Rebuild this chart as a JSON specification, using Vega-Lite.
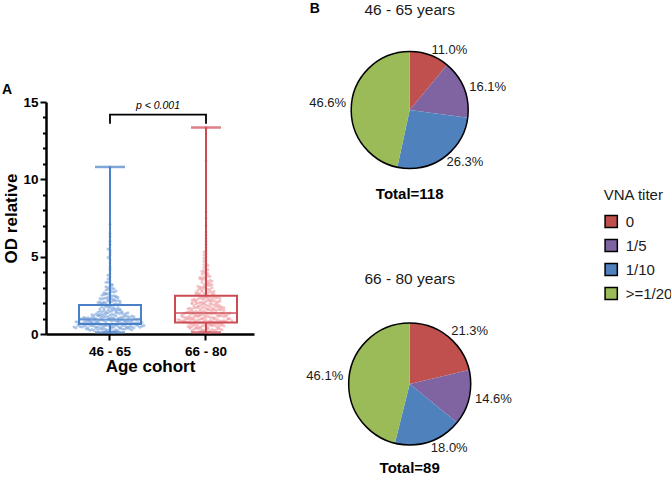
{
 "$schema": "https://vega.github.io/schema/vega-lite/v6.json",
 "padding": {"left": 2, "top": 1, "right": 5, "bottom": 5},
 "background": "white",
 "config": {
  "view": {"stroke": null},
  "font": "Liberation Sans",
  "axis": {"domainColor": "#000", "tickColor": "#000", "labelColor": "#000", "titleColor": "#000", "grid": false}
 },
 "datasets": {
  "pts": [
   {"c":"46 - 65","v":0.42},{"c":"46 - 65","v":0.18},{"c":"46 - 65","v":0.57},{"c":"46 - 65","v":0.33},{"c":"46 - 65","v":0.61},{"c":"46 - 65","v":0.25},{"c":"46 - 65","v":0.49},{"c":"46 - 65","v":0.12},{"c":"46 - 65","v":0.55},{"c":"46 - 65","v":0.38},
   {"c":"46 - 65","v":0.63},{"c":"46 - 65","v":0.29},{"c":"46 - 65","v":0.46},{"c":"46 - 65","v":0.52},{"c":"46 - 65","v":0.21},{"c":"46 - 65","v":0.59},{"c":"46 - 65","v":0.35},{"c":"46 - 65","v":0.44},{"c":"46 - 65","v":0.64},{"c":"46 - 65","v":0.27},
   {"c":"46 - 65","v":0.5},{"c":"46 - 65","v":0.15},{"c":"46 - 65","v":0.58},{"c":"46 - 65","v":0.4},{"c":"46 - 65","v":0.62},{"c":"46 - 65","v":0.31},{"c":"46 - 65","v":0.47},{"c":"46 - 65","v":0.54},{"c":"46 - 65","v":0.23},{"c":"46 - 65","v":0.6},
   {"c":"46 - 65","v":0.36},{"c":"46 - 65","v":0.45},{"c":"46 - 65","v":0.56},{"c":"46 - 65","v":0.19},{"c":"46 - 65","v":0.51},{"c":"46 - 65","v":0.39},{"c":"46 - 65","v":0.63},{"c":"46 - 65","v":0.28},{"c":"46 - 65","v":0.48},{"c":"46 - 65","v":0.53},
   {"c":"46 - 65","v":0.34},{"c":"46 - 65","v":0.6},{"c":"46 - 65","v":0.43},{"c":"46 - 65","v":0.1},{"c":"46 - 65","v":0.57},{"c":"46 - 65","v":0.37},{"c":"46 - 65","v":0.62},{"c":"46 - 65","v":0.3},{"c":"46 - 65","v":0.5},{"c":"46 - 65","v":0.41},
   {"c":"46 - 65","v":0.22},{"c":"46 - 65","v":0.47},{"c":"46 - 65","v":0.35},{"c":"46 - 65","v":0.56},{"c":"46 - 65","v":0.14},{"c":"46 - 65","v":0.41},{"c":"46 - 65","v":0.52},{"c":"46 - 65","v":0.29},{"c":"46 - 65","v":0.58},{"c":"46 - 65","v":0.38},
   {"c":"46 - 65","v":0.45},{"c":"46 - 65","v":0.25},{"c":"46 - 65","v":0.53},{"c":"46 - 65","v":0.33},{"c":"46 - 65","v":0.49},{"c":"46 - 65","v":0.17},{"c":"46 - 65","v":0.44},{"c":"46 - 65","v":0.57},{"c":"46 - 65","v":0.31},{"c":"46 - 65","v":0.5},
   {"c":"46 - 65","v":0.4},{"c":"46 - 65","v":0.27},{"c":"46 - 65","v":0.55},{"c":"46 - 65","v":0.36},{"c":"46 - 65","v":0.46},
   {"c":"46 - 65","v":0.78},{"c":"46 - 65","v":0.66},{"c":"46 - 65","v":0.89},{"c":"46 - 65","v":0.71},{"c":"46 - 65","v":0.93},{"c":"46 - 65","v":0.75},{"c":"46 - 65","v":0.68},{"c":"46 - 65","v":0.84},{"c":"46 - 65","v":0.8},{"c":"46 - 65","v":0.7},
   {"c":"46 - 65","v":0.91},{"c":"46 - 65","v":0.73},{"c":"46 - 65","v":0.86},{"c":"46 - 65","v":0.67},{"c":"46 - 65","v":0.82},{"c":"46 - 65","v":0.77},{"c":"46 - 65","v":0.9},{"c":"46 - 65","v":0.69},{"c":"46 - 65","v":0.85},{"c":"46 - 65","v":0.74},
   {"c":"46 - 65","v":0.92},{"c":"46 - 65","v":0.79},{"c":"46 - 65","v":0.66},{"c":"46 - 65","v":0.88},{"c":"46 - 65","v":0.72},{"c":"46 - 65","v":0.83},{"c":"46 - 65","v":0.76},{"c":"46 - 65","v":0.94},{"c":"46 - 65","v":0.7},{"c":"46 - 65","v":0.81},
   {"c":"46 - 65","v":0.87},{"c":"46 - 65","v":0.68},{"c":"46 - 65","v":0.78},{"c":"46 - 65","v":0.9},{"c":"46 - 65","v":0.73},{"c":"46 - 65","v":0.84},{"c":"46 - 65","v":0.67},{"c":"46 - 65","v":0.8},{"c":"46 - 65","v":0.93},{"c":"46 - 65","v":0.75},
   {"c":"46 - 65","v":0.86},{"c":"46 - 65","v":0.71},{"c":"46 - 65","v":0.82},{"c":"46 - 65","v":0.89},{"c":"46 - 65","v":0.69},{"c":"46 - 65","v":0.77},{"c":"46 - 65","v":0.91},{"c":"46 - 65","v":0.74},{"c":"46 - 65","v":0.85},{"c":"46 - 65","v":0.79},
   {"c":"46 - 65","v":1.02},{"c":"46 - 65","v":1.45},{"c":"46 - 65","v":0.97},{"c":"46 - 65","v":1.68},{"c":"46 - 65","v":1.21},{"c":"46 - 65","v":1.83},{"c":"46 - 65","v":1.1},{"c":"46 - 65","v":1.37},{"c":"46 - 65","v":1.55},{"c":"46 - 65","v":0.99},
   {"c":"46 - 65","v":1.28},{"c":"46 - 65","v":1.74},{"c":"46 - 65","v":1.06},{"c":"46 - 65","v":1.49},{"c":"46 - 65","v":1.15},{"c":"46 - 65","v":1.62},{"c":"46 - 65","v":1.33},{"c":"46 - 65","v":1.86},{"c":"46 - 65","v":1.04},{"c":"46 - 65","v":1.41},
   {"c":"46 - 65","v":1.25},{"c":"46 - 65","v":1.79},{"c":"46 - 65","v":1.12},{"c":"46 - 65","v":1.58},{"c":"46 - 65","v":0.96},{"c":"46 - 65","v":1.3},{"c":"46 - 65","v":1.7},{"c":"46 - 65","v":1.18},{"c":"46 - 65","v":1.52},{"c":"46 - 65","v":1.08},
   {"c":"46 - 65","v":1.39},{"c":"46 - 65","v":1.65},{"c":"46 - 65","v":1.23},{"c":"46 - 65","v":1.81},{"c":"46 - 65","v":1.0},{"c":"46 - 65","v":1.47},{"c":"46 - 65","v":1.14},{"c":"46 - 65","v":1.6},{"c":"46 - 65","v":1.35},{"c":"46 - 65","v":1.76},
   {"c":"46 - 65","v":1.05},{"c":"46 - 65","v":1.27},{"c":"46 - 65","v":1.43},{"c":"46 - 65","v":1.19},{"c":"46 - 65","v":1.56},{"c":"46 - 65","v":1.72},{"c":"46 - 65","v":1.1},{"c":"46 - 65","v":1.32},{"c":"46 - 65","v":1.64},{"c":"46 - 65","v":1.85},
   {"c":"46 - 65","v":1.01},{"c":"46 - 65","v":1.22},{"c":"46 - 65","v":0.98},{"c":"46 - 65","v":1.36},{"c":"46 - 65","v":1.11},{"c":"46 - 65","v":1.03},{"c":"46 - 65","v":1.48},{"c":"46 - 65","v":1.17},{"c":"46 - 65","v":0.95},{"c":"46 - 65","v":1.29},
   {"c":"46 - 65","v":1.07},{"c":"46 - 65","v":1.54},{"c":"46 - 65","v":1.13},{"c":"46 - 65","v":1.0},{"c":"46 - 65","v":1.26},{"c":"46 - 65","v":1.4},{"c":"46 - 65","v":1.09},{"c":"46 - 65","v":0.97},{"c":"46 - 65","v":1.2},{"c":"46 - 65","v":1.33},
   {"c":"46 - 65","v":1.05},{"c":"46 - 65","v":1.6},{"c":"46 - 65","v":1.16},{"c":"46 - 65","v":0.99},{"c":"46 - 65","v":1.44},{"c":"46 - 65","v":1.24},{"c":"46 - 65","v":1.02},{"c":"46 - 65","v":1.12},{"c":"46 - 65","v":1.38},{"c":"46 - 65","v":1.08},
   {"c":"46 - 65","v":1.92},{"c":"46 - 65","v":2.35},{"c":"46 - 65","v":2.05},{"c":"46 - 65","v":2.8},{"c":"46 - 65","v":1.98},{"c":"46 - 65","v":2.52},{"c":"46 - 65","v":2.15},{"c":"46 - 65","v":3.1},{"c":"46 - 65","v":2.24},{"c":"46 - 65","v":1.95},
   {"c":"46 - 65","v":2.68},{"c":"46 - 65","v":2.4},{"c":"46 - 65","v":3.45},{"c":"46 - 65","v":2.1},{"c":"46 - 65","v":2.9},{"c":"46 - 65","v":2.02},{"c":"46 - 65","v":3.7},{"c":"46 - 65","v":2.6},{"c":"46 - 65","v":2.28},{"c":"46 - 65","v":3.25},
   {"c":"46 - 65","v":2.45},{"c":"46 - 65","v":4.1},{"c":"46 - 65","v":2.18},{"c":"46 - 65","v":3.0},{"c":"46 - 65","v":2.75},{"c":"46 - 65","v":3.9},{"c":"46 - 65","v":2.33},{"c":"46 - 65","v":3.55},{"c":"46 - 65","v":4.4},{"c":"46 - 65","v":2.95},
   {"c":"46 - 65","v":4.8},{"c":"46 - 65","v":3.35},{"c":"46 - 65","v":5.1},{"c":"46 - 65","v":2.58},{"c":"46 - 65","v":4.25},{"c":"46 - 65","v":5.4},{"c":"46 - 65","v":3.8},{"c":"46 - 65","v":4.6},{"c":"46 - 65","v":5.5},{"c":"46 - 65","v":3.15},
   {"c":"46 - 65","v":5.25},{"c":"46 - 65","v":6.0},{"c":"46 - 65","v":4.95},{"c":"46 - 65","v":6.5},{"c":"46 - 65","v":5.8},{"c":"46 - 65","v":7.1},{"c":"46 - 65","v":6.3},{"c":"46 - 65","v":10.8},
   {"c":"46 - 65","v":1.96},{"c":"46 - 65","v":2.22},{"c":"46 - 65","v":2.48},{"c":"46 - 65","v":2.07},{"c":"46 - 65","v":2.62},{"c":"46 - 65","v":1.9},{"c":"46 - 65","v":2.31},{"c":"46 - 65","v":2.85},{"c":"46 - 65","v":2.13},{"c":"46 - 65","v":2.55},
   {"c":"46 - 65","v":2.01},{"c":"46 - 65","v":2.38},{"c":"46 - 65","v":3.05},{"c":"46 - 65","v":2.19},{"c":"46 - 65","v":2.72},{"c":"46 - 65","v":1.94},{"c":"46 - 65","v":2.44},{"c":"46 - 65","v":2.26},{"c":"46 - 65","v":3.2},{"c":"46 - 65","v":2.09},
   {"c":"46 - 65","v":2.66},{"c":"46 - 65","v":2.36},{"c":"46 - 65","v":1.99},{"c":"46 - 65","v":2.5},{"c":"46 - 65","v":2.92},{"c":"46 - 65","v":2.12},{"c":"46 - 65","v":3.35},{"c":"46 - 65","v":2.29},{"c":"46 - 65","v":2.04},{"c":"46 - 65","v":2.78},
   {"c":"66 - 80","v":0.45},{"c":"66 - 80","v":0.12},{"c":"66 - 80","v":0.68},{"c":"66 - 80","v":0.31},{"c":"66 - 80","v":0.55},{"c":"66 - 80","v":0.22},{"c":"66 - 80","v":0.73},{"c":"66 - 80","v":0.4},{"c":"66 - 80","v":0.62},{"c":"66 - 80","v":0.17},
   {"c":"66 - 80","v":0.5},{"c":"66 - 80","v":0.35},{"c":"66 - 80","v":0.7},{"c":"66 - 80","v":0.27},{"c":"66 - 80","v":0.58},{"c":"66 - 80","v":0.43},{"c":"66 - 80","v":0.66},{"c":"66 - 80","v":0.2},{"c":"66 - 80","v":0.53},{"c":"66 - 80","v":0.37},
   {"c":"66 - 80","v":0.74},{"c":"66 - 80","v":0.29},{"c":"66 - 80","v":0.61},{"c":"66 - 80","v":0.47},{"c":"66 - 80","v":0.14},{"c":"66 - 80","v":0.65},{"c":"66 - 80","v":0.33},{"c":"66 - 80","v":0.56},{"c":"66 - 80","v":0.24},{"c":"66 - 80","v":0.71},
   {"c":"66 - 80","v":0.41},{"c":"66 - 80","v":0.6},{"c":"66 - 80","v":0.19},{"c":"66 - 80","v":0.52},{"c":"66 - 80","v":0.38},{"c":"66 - 80","v":0.69},{"c":"66 - 80","v":0.26},{"c":"66 - 80","v":0.57},{"c":"66 - 80","v":0.44},{"c":"66 - 80","v":0.72},
   {"c":"66 - 80","v":0.3},{"c":"66 - 80","v":0.64},{"c":"66 - 80","v":0.49},{"c":"66 - 80","v":0.1},{"c":"66 - 80","v":0.67},{"c":"66 - 80","v":0.36},{"c":"66 - 80","v":0.54},{"c":"66 - 80","v":0.23},{"c":"66 - 80","v":0.7},{"c":"66 - 80","v":0.42},
   {"c":"66 - 80","v":0.59},{"c":"66 - 80","v":0.32},{"c":"66 - 80","v":0.63},{"c":"66 - 80","v":0.48},{"c":"66 - 80","v":0.16},{"c":"66 - 80","v":0.66},{"c":"66 - 80","v":0.39},{"c":"66 - 80","v":0.51},{"c":"66 - 80","v":0.28},{"c":"66 - 80","v":0.74},
   {"c":"66 - 80","v":0.78},{"c":"66 - 80","v":1.12},{"c":"66 - 80","v":0.92},{"c":"66 - 80","v":1.3},{"c":"66 - 80","v":0.85},{"c":"66 - 80","v":1.05},{"c":"66 - 80","v":1.22},{"c":"66 - 80","v":0.8},{"c":"66 - 80","v":0.98},{"c":"66 - 80","v":1.34},
   {"c":"66 - 80","v":0.88},{"c":"66 - 80","v":1.15},{"c":"66 - 80","v":1.01},{"c":"66 - 80","v":1.27},{"c":"66 - 80","v":0.76},{"c":"66 - 80","v":1.09},{"c":"66 - 80","v":0.95},{"c":"66 - 80","v":1.19},{"c":"66 - 80","v":0.83},{"c":"66 - 80","v":1.32},
   {"c":"66 - 80","v":1.03},{"c":"66 - 80","v":0.9},{"c":"66 - 80","v":1.25},{"c":"66 - 80","v":0.79},{"c":"66 - 80","v":1.13},{"c":"66 - 80","v":0.97},{"c":"66 - 80","v":1.29},{"c":"66 - 80","v":0.86},{"c":"66 - 80","v":1.07},{"c":"66 - 80","v":1.2},
   {"c":"66 - 80","v":0.81},{"c":"66 - 80","v":1.35},{"c":"66 - 80","v":0.93},{"c":"66 - 80","v":1.17},{"c":"66 - 80","v":1.0},{"c":"66 - 80","v":1.24},{"c":"66 - 80","v":0.77},{"c":"66 - 80","v":1.1},{"c":"66 - 80","v":0.89},{"c":"66 - 80","v":1.31},
   {"c":"66 - 80","v":0.96},{"c":"66 - 80","v":1.14},{"c":"66 - 80","v":0.84},{"c":"66 - 80","v":1.28},{"c":"66 - 80","v":1.04},{"c":"66 - 80","v":0.91},{"c":"66 - 80","v":1.21},{"c":"66 - 80","v":0.82},{"c":"66 - 80","v":1.33},{"c":"66 - 80","v":0.99},
   {"c":"66 - 80","v":1.16},{"c":"66 - 80","v":0.87},{"c":"66 - 80","v":1.26},{"c":"66 - 80","v":1.06},{"c":"66 - 80","v":0.94},{"c":"66 - 80","v":1.18},{"c":"66 - 80","v":0.8},{"c":"66 - 80","v":1.23},{"c":"66 - 80","v":1.08},{"c":"66 - 80","v":1.36},
   {"c":"66 - 80","v":1.42},{"c":"66 - 80","v":2.1},{"c":"66 - 80","v":1.65},{"c":"66 - 80","v":2.38},{"c":"66 - 80","v":1.5},{"c":"66 - 80","v":1.88},{"c":"66 - 80","v":2.25},{"c":"66 - 80","v":1.58},{"c":"66 - 80","v":2.02},{"c":"66 - 80","v":1.39},
   {"c":"66 - 80","v":1.75},{"c":"66 - 80","v":2.44},{"c":"66 - 80","v":1.62},{"c":"66 - 80","v":1.95},{"c":"66 - 80","v":2.18},{"c":"66 - 80","v":1.46},{"c":"66 - 80","v":1.82},{"c":"66 - 80","v":2.32},{"c":"66 - 80","v":1.7},{"c":"66 - 80","v":2.06},
   {"c":"66 - 80","v":1.53},{"c":"66 - 80","v":2.4},{"c":"66 - 80","v":1.9},{"c":"66 - 80","v":1.44},{"c":"66 - 80","v":2.14},{"c":"66 - 80","v":1.78},{"c":"66 - 80","v":2.28},{"c":"66 - 80","v":1.6},{"c":"66 - 80","v":1.98},{"c":"66 - 80","v":2.47},
   {"c":"66 - 80","v":1.49},{"c":"66 - 80","v":1.85},{"c":"66 - 80","v":2.21},{"c":"66 - 80","v":1.67},{"c":"66 - 80","v":2.04},{"c":"66 - 80","v":1.4},{"c":"66 - 80","v":1.73},{"c":"66 - 80","v":2.35},{"c":"66 - 80","v":1.56},{"c":"66 - 80","v":1.93},
   {"c":"66 - 80","v":2.12},{"c":"66 - 80","v":1.47},{"c":"66 - 80","v":1.8},{"c":"66 - 80","v":2.3},{"c":"66 - 80","v":1.63},{"c":"66 - 80","v":2.0},{"c":"66 - 80","v":2.43},{"c":"66 - 80","v":1.52},{"c":"66 - 80","v":1.87},{"c":"66 - 80","v":2.16},
   {"c":"66 - 80","v":1.69},{"c":"66 - 80","v":2.08},{"c":"66 - 80","v":1.43},{"c":"66 - 80","v":1.77},{"c":"66 - 80","v":2.26},{"c":"66 - 80","v":1.59},{"c":"66 - 80","v":1.96},{"c":"66 - 80","v":2.37},{"c":"66 - 80","v":1.72},{"c":"66 - 80","v":2.2},
   {"c":"66 - 80","v":0.88},{"c":"66 - 80","v":1.47},{"c":"66 - 80","v":2.05},{"c":"66 - 80","v":1.12},{"c":"66 - 80","v":1.78},{"c":"66 - 80","v":0.95},{"c":"66 - 80","v":2.33},{"c":"66 - 80","v":1.29},{"c":"66 - 80","v":1.61},{"c":"66 - 80","v":2.15},
   {"c":"66 - 80","v":0.82},{"c":"66 - 80","v":1.94},{"c":"66 - 80","v":1.38},{"c":"66 - 80","v":2.42},{"c":"66 - 80","v":1.05},{"c":"66 - 80","v":1.7},{"c":"66 - 80","v":1.2},{"c":"66 - 80","v":2.26},{"c":"66 - 80","v":0.99},{"c":"66 - 80","v":1.55},
   {"c":"66 - 80","v":1.84},{"c":"66 - 80","v":1.33},{"c":"66 - 80","v":2.1},{"c":"66 - 80","v":0.9},{"c":"66 - 80","v":1.66},{"c":"66 - 80","v":2.38},{"c":"66 - 80","v":1.17},{"c":"66 - 80","v":1.48},{"c":"66 - 80","v":2.01},{"c":"66 - 80","v":1.27},
   {"c":"66 - 80","v":1.9},{"c":"66 - 80","v":0.86},{"c":"66 - 80","v":1.58},{"c":"66 - 80","v":2.2},{"c":"66 - 80","v":1.09},{"c":"66 - 80","v":1.75},{"c":"66 - 80","v":1.41},{"c":"66 - 80","v":2.46},{"c":"66 - 80","v":1.0},{"c":"66 - 80","v":1.63},
   {"c":"66 - 80","v":1.97},{"c":"66 - 80","v":1.23},{"c":"66 - 80","v":2.29},{"c":"66 - 80","v":1.52},{"c":"66 - 80","v":0.93},{"c":"66 - 80","v":1.81},{"c":"66 - 80","v":1.36},{"c":"66 - 80","v":2.12},{"c":"66 - 80","v":1.14},{"c":"66 - 80","v":1.69},
   {"c":"66 - 80","v":2.55},{"c":"66 - 80","v":3.1},{"c":"66 - 80","v":2.7},{"c":"66 - 80","v":3.6},{"c":"66 - 80","v":2.62},{"c":"66 - 80","v":4.2},{"c":"66 - 80","v":2.85},{"c":"66 - 80","v":3.3},{"c":"66 - 80","v":2.52},{"c":"66 - 80","v":3.85},
   {"c":"66 - 80","v":2.95},{"c":"66 - 80","v":4.6},{"c":"66 - 80","v":2.66},{"c":"66 - 80","v":3.45},{"c":"66 - 80","v":5.0},{"c":"66 - 80","v":2.78},{"c":"66 - 80","v":3.2},{"c":"66 - 80","v":4.0},{"c":"66 - 80","v":2.58},{"c":"66 - 80","v":3.7},
   {"c":"66 - 80","v":5.4},{"c":"66 - 80","v":3.05},{"c":"66 - 80","v":4.4},{"c":"66 - 80","v":2.9},{"c":"66 - 80","v":3.55},{"c":"66 - 80","v":5.8},{"c":"66 - 80","v":2.74},{"c":"66 - 80","v":3.95},{"c":"66 - 80","v":4.8},{"c":"66 - 80","v":3.15},
   {"c":"66 - 80","v":6.2},{"c":"66 - 80","v":2.6},{"c":"66 - 80","v":4.1},{"c":"66 - 80","v":3.4},{"c":"66 - 80","v":5.2},{"c":"66 - 80","v":2.82},{"c":"66 - 80","v":6.6},{"c":"66 - 80","v":3.75},{"c":"66 - 80","v":4.5},{"c":"66 - 80","v":3.0},
   {"c":"66 - 80","v":5.6},{"c":"66 - 80","v":7.0},{"c":"66 - 80","v":3.25},{"c":"66 - 80","v":4.3},{"c":"66 - 80","v":7.5},{"c":"66 - 80","v":3.5},{"c":"66 - 80","v":6.0},{"c":"66 - 80","v":4.9},{"c":"66 - 80","v":7.9},{"c":"66 - 80","v":3.9},
   {"c":"66 - 80","v":5.1},{"c":"66 - 80","v":6.4},{"c":"66 - 80","v":4.7},{"c":"66 - 80","v":11.2},{"c":"66 - 80","v":5.3},{"c":"66 - 80","v":13.35},
   {"c":"66 - 80","v":2.57},{"c":"66 - 80","v":3.12},{"c":"66 - 80","v":2.68},{"c":"66 - 80","v":3.48},{"c":"66 - 80","v":2.88},{"c":"66 - 80","v":3.62},{"c":"66 - 80","v":2.63},{"c":"66 - 80","v":3.02},{"c":"66 - 80","v":3.88},{"c":"66 - 80","v":2.76},
   {"c":"66 - 80","v":3.35},{"c":"66 - 80","v":4.15},{"c":"66 - 80","v":2.93},{"c":"66 - 80","v":3.58},{"c":"66 - 80","v":2.71},{"c":"66 - 80","v":3.18},{"c":"66 - 80","v":4.45},{"c":"66 - 80","v":2.99},{"c":"66 - 80","v":3.72},{"c":"66 - 80","v":3.28},
   {"c":"66 - 80","v":2.84},{"c":"66 - 80","v":3.42},{"c":"66 - 80","v":4.05},{"c":"66 - 80","v":3.08},{"c":"66 - 80","v":3.66}
  ],
  "stats": [
   {"c":"46 - 65","min":0.1,"q1":0.65,"med":0.94,"q3":1.87,"max":10.8},
   {"c":"66 - 80","min":0.1,"q1":0.75,"med":1.36,"q3":2.48,"max":13.35}
  ],
  "pie1": [
   {"titer":"0","frac":0.110,"o":1},
   {"titer":"1/5","frac":0.161,"o":2},
   {"titer":"1/10","frac":0.263,"o":3},
   {"titer":">=1/20","frac":0.466,"o":4}
  ],
  "pie2": [
   {"titer":"0","frac":0.213,"o":1},
   {"titer":"1/5","frac":0.146,"o":2},
   {"titer":"1/10","frac":0.180,"o":3},
   {"titer":">=1/20","frac":0.461,"o":4}
  ]
 },
 "resolve": {"scale": {"color": "independent"}},
 "spacing": 51.7,
 "hconcat": [
  {
   "vconcat": [
    {"width": 208, "height": 63, "data": {"values": [{"a": 0}]}, "mark": {"type": "point", "size": 0, "opacity": 0}, "encoding": {}},
    {
     "width": 208,
     "height": 232,
     "title": {"text": "A", "anchor": "start", "frame": "bounds", "fontSize": 14, "fontWeight": "bold", "offset": -2, "color": "#000"},
     "resolve": {"axis": {"y": "independent"}},
     "layer": [
      {
       "data": {"name": "pts"},
       "transform": [
        {"bin": {"step": 0.2, "extent": [0, 15]}, "field": "v", "as": "vb"},
        {"window": [{"op": "row_number", "as": "slot"}], "groupby": ["c", "vb"]}
       ],
       "mark": {"type": "point", "filled": true, "size": 9, "opacity": 0.6, "strokeWidth": 0},
       "encoding": {
        "x": {"field": "c", "type": "nominal", "title": "Age cohort",
              "scale": {"domain": ["46 - 65", "66 - 80"], "paddingInner": 0, "paddingOuter": 0.0833, "align": 1},
              "axis": {"labelAngle": 0, "labelFontSize": 13.5, "labelFontWeight": "bold", "labelPadding": 4, "tickSize": 6, "tickWidth": 2, "domainWidth": 2.5, "titleFontSize": 17, "titleFontWeight": "bold", "titlePadding": 1}},
        "xOffset": {"field": "slot", "type": "nominal",
              "scale": {"domain": [48,46,44,42,40,38,36,34,32,30,28,26,24,22,20,18,16,14,12,10,8,6,4,2,1,3,5,7,9,11,13,15,17,19,21,23,25,27,29,31,33,35,37,39,41,43,45,47,49], "paddingInner": 0, "paddingOuter": 0}},
        "y": {"field": "v", "type": "quantitative", "title": "OD relative",
              "scale": {"domain": [0, 15], "nice": false},
              "axis": {"orient": "left", "values": [0, 5, 10, 15], "labelOverlap": false, "tickSize": 6,
                       "tickWidth": 2, "domainWidth": 2.5, "labelFontSize": 13.5, "labelFontWeight": "bold", "labelPadding": 2,
                       "titleFontSize": 17, "titleFontWeight": "bold", "titleX": -26, "titleY": 116}},
        "fill": {"field": "c", "type": "nominal", "scale": {"domain": ["46 - 65", "66 - 80"], "range": ["#7ba3dc", "#ee9ea3"]}, "legend": null}
       }
      },
      {
       "data": {"name": "stats"},
       "mark": {"type": "rule", "strokeWidth": 2},
       "encoding": {
        "x": {"field": "c", "type": "nominal", "title": "Age cohort"},
        "y": {"field": "q3", "type": "quantitative",
              "axis": {"orient": "left", "values": [1,2,3,4,6,7,8,9,11,12,13,14], "labels": false, "domain": false, "tickSize": 3.5, "tickWidth": 2, "title": null}},
        "y2": {"field": "max"},
        "stroke": {"field": "c", "type": "nominal", "scale": {"domain": ["46 - 65", "66 - 80"], "range": ["#4a80c8", "#cc4a52"]}, "legend": null}
       }
      },
      {
       "data": {"name": "stats"},
       "mark": {"type": "rule", "strokeWidth": 2},
       "encoding": {
        "x": {"field": "c", "type": "nominal", "title": "Age cohort"},
        "y": {"field": "min", "type": "quantitative", "axis": null},
        "y2": {"field": "q1"},
        "stroke": {"field": "c", "type": "nominal", "scale": {"domain": ["46 - 65", "66 - 80"], "range": ["#4a80c8", "#cc4a52"]}, "legend": null}
       }
      },
      {
       "data": {"name": "stats"},
       "mark": {"type": "bar", "size": 62, "fillOpacity": 0, "strokeWidth": 2},
       "encoding": {
        "x": {"field": "c", "type": "nominal", "title": "Age cohort"},
        "y": {"field": "q1", "type": "quantitative", "axis": null},
        "y2": {"field": "q3"},
        "stroke": {"field": "c", "type": "nominal", "scale": {"domain": ["46 - 65", "66 - 80"], "range": ["#4a80c8", "#cc4a52"]}, "legend": null}
       }
      },
      {
       "data": {"name": "stats"},
       "mark": {"type": "tick", "size": 62, "thickness": 2},
       "encoding": {
        "x": {"field": "c", "type": "nominal", "title": "Age cohort"},
        "y": {"field": "med", "type": "quantitative", "axis": null},
        "color": {"field": "c", "type": "nominal", "scale": {"domain": ["46 - 65", "66 - 80"], "range": ["#4a80c8", "#cc4a52"]}, "legend": null}
       }
      },
      {
       "data": {"name": "stats"},
       "mark": {"type": "tick", "size": 30, "thickness": 2.5},
       "encoding": {
        "x": {"field": "c", "type": "nominal", "title": "Age cohort"},
        "y": {"field": "max", "type": "quantitative", "axis": null},
        "color": {"field": "c", "type": "nominal", "scale": {"domain": ["46 - 65", "66 - 80"], "range": ["#4a80c8", "#cc4a52"]}, "legend": null}
       }
      },
      {
       "data": {"name": "stats"},
       "mark": {"type": "tick", "size": 30, "thickness": 2.5},
       "encoding": {
        "x": {"field": "c", "type": "nominal", "title": "Age cohort"},
        "y": {"field": "min", "type": "quantitative", "axis": null},
        "color": {"field": "c", "type": "nominal", "scale": {"domain": ["46 - 65", "66 - 80"], "range": ["#4a80c8", "#cc4a52"]}, "legend": null}
       }
      },
      {
       "data": {"values": [
        {"c": "46 - 65", "y": 13.6, "i": 1},
        {"c": "46 - 65", "y": 14.18, "i": 2},
        {"c": "66 - 80", "y": 14.18, "i": 3},
        {"c": "66 - 80", "y": 13.6, "i": 4}
       ]},
       "mark": {"type": "line", "color": "#000", "strokeWidth": 1.8, "strokeJoin": "miter", "strokeCap": "butt"},
       "encoding": {
        "x": {"field": "c", "type": "nominal", "title": "Age cohort"},
        "y": {"field": "y", "type": "quantitative", "axis": null},
        "order": {"field": "i", "type": "quantitative"}
       }
      },
      {
       "data": {"values": [{"c": "46 - 65", "y": 14.4, "t": "p < 0.001"}]},
       "mark": {"type": "text", "fontSize": 10.5, "fontStyle": "italic", "baseline": "bottom", "color": "#000"},
       "encoding": {
        "x": {"field": "c", "type": "nominal", "bandPosition": 1, "title": "Age cohort"},
        "y": {"field": "y", "type": "quantitative", "axis": null},
        "text": {"field": "t"}
       }
      }
     ]
    }
   ],
   "spacing": 0
  },
  {
   "vconcat": [
    {
     "width": 200,
     "height": 180,
     "title": {"text": "B", "anchor": "start", "frame": "group", "fontSize": 14, "fontWeight": "bold", "offset": -13, "color": "#000"},
     "layer": [
      {
       "data": {"name": "pie1"},
       "mark": {"type": "arc", "outerRadius": 58.5},
       "encoding": {
        "theta": {"field": "frac", "type": "quantitative", "stack": true},
        "order": {"field": "o", "type": "quantitative"},
        "color": {"field": "titer", "type": "nominal", "title": "VNA titer",
                  "scale": {"domain": ["0", "1/5", "1/10", ">=1/20"], "range": ["#c0504d", "#8064a2", "#4f81bd", "#9bbb59"]},
                  "legend": {"orient": "none", "legendX": 294, "legendY": 168, "symbolType": "square", "symbolSize": 150, "symbolStrokeColor": "#000", "symbolStrokeWidth": 1.5, "symbolOpacity": 1, "labelFontSize": 15, "titleFontSize": 15, "titleFontWeight": "normal", "titleColor": "#1a1a1a", "labelColor": "#1a1a1a", "rowPadding": 5, "titlePadding": 11, "labelOffset": 7}}
       }
      },
      {
       "data": {"name": "pie1"},
       "transform": [{"aggregate": [{"op": "sum", "field": "frac", "as": "frac"}]}],
       "mark": {"type": "arc", "outerRadius": 58.5, "fillOpacity": 0, "stroke": "#000", "strokeWidth": 1.5},
       "encoding": {"theta": {"field": "frac", "type": "quantitative", "stack": true}}
      },
      {
       "data": {"name": "pie1"},
       "mark": {"type": "text", "radius": 64, "fontSize": 13, "color": "#1a1a1a", "align": {"expr": "datum.titer === '>=1/20' ? 'right' : 'left'"}},
       "encoding": {
        "theta": {"field": "frac", "type": "quantitative", "stack": true},
        "order": {"field": "o", "type": "quantitative"},
        "text": {"field": "frac", "type": "quantitative", "format": ".1%"}
       }
      },
      {
       "data": {"values": [{"head": "46 - 65 years", "total": "Total=118"}]},
       "mark": {"type": "text", "radius": 100.5, "fontSize": 15.5, "color": "#1a1a1a"},
       "encoding": {"theta": {"datum": 0, "type": "quantitative"}, "text": {"field": "head"}}
      },
      {
       "data": {"values": [{"head": "46 - 65 years", "total": "Total=118"}]},
       "mark": {"type": "text", "radius": 84, "fontSize": 15, "fontWeight": "bold", "color": "#000"},
       "encoding": {"theta": {"datum": 0.5, "type": "quantitative"}, "text": {"field": "total"}}
      }
     ]
    },
    {
     "width": 200,
     "height": 180,
     "layer": [
      {
       "data": {"name": "pie2"},
       "mark": {"type": "arc", "outerRadius": 61},
       "encoding": {
        "theta": {"field": "frac", "type": "quantitative", "stack": true},
        "order": {"field": "o", "type": "quantitative"},
        "color": {"field": "titer", "type": "nominal", "title": "VNA titer",
                  "scale": {"domain": ["0", "1/5", "1/10", ">=1/20"], "range": ["#c0504d", "#8064a2", "#4f81bd", "#9bbb59"]},
                  "legend": {"orient": "none", "legendX": 294, "legendY": 168, "symbolType": "square", "symbolSize": 150, "symbolStrokeColor": "#000", "symbolStrokeWidth": 1.5, "symbolOpacity": 1, "labelFontSize": 15, "titleFontSize": 15, "titleFontWeight": "normal", "titleColor": "#1a1a1a", "labelColor": "#1a1a1a", "rowPadding": 5, "titlePadding": 11, "labelOffset": 7}}
       }
      },
      {
       "data": {"name": "pie2"},
       "transform": [{"aggregate": [{"op": "sum", "field": "frac", "as": "frac"}]}],
       "mark": {"type": "arc", "outerRadius": 61, "fillOpacity": 0, "stroke": "#000", "strokeWidth": 1.5},
       "encoding": {"theta": {"field": "frac", "type": "quantitative", "stack": true}}
      },
      {
       "data": {"name": "pie2"},
       "mark": {"type": "text", "radius": 67, "fontSize": 13, "color": "#1a1a1a", "align": {"expr": "datum.titer === '>=1/20' ? 'right' : 'left'"}},
       "encoding": {
        "theta": {"field": "frac", "type": "quantitative", "stack": true},
        "order": {"field": "o", "type": "quantitative"},
        "text": {"field": "frac", "type": "quantitative", "format": ".1%"}
       }
      },
      {
       "data": {"values": [{"head": "66 - 80 years", "total": "Total=89"}]},
       "mark": {"type": "text", "radius": 105, "fontSize": 15.5, "color": "#1a1a1a"},
       "encoding": {"theta": {"datum": 0, "type": "quantitative"}, "text": {"field": "head"}}
      },
      {
       "data": {"values": [{"head": "66 - 80 years", "total": "Total=89"}]},
       "mark": {"type": "text", "radius": 83.5, "fontSize": 15, "fontWeight": "bold", "color": "#000"},
       "encoding": {"theta": {"datum": 0.5, "type": "quantitative"}, "text": {"field": "total"}}
      }
     ]
    }
   ],
   "spacing": 94,
   "bounds": "flush"
  }
 ]
}
